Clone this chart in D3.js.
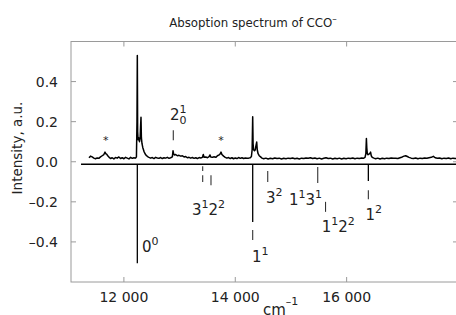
<!DOCTYPE html>
<html lang="en">
<head>
    <meta charset="UTF-8">
    <script src="https://cdn.jsdelivr.net/npm/d3@7"></script>
    <title>Absoption spectrum of CCO-</title>
    <style>
        body { margin: 0; background: #fff; }
        text { font-family: "DejaVu Sans", sans-serif; fill: #222; }
        .frame { stroke: #9a9a9a; stroke-width: 1; fill: none; }
    </style>
</head>
<body>
    <svg id="chart" width="456" height="315"></svg>
    <script>
        // ticks
        const xTicks = [12000, 14000, 16000];
        const yTicks = [-0.4, -0.2, 0, 0.2, 0.4];
        const xTickLabels = ["12 000", "14 000", "16 000"];
        const yTickLabels = ["\u20130.4", "\u20130.2", "0.0", "0.2", "0.4"];

        // measured spectrum [wavenumber cm-1, intensity]
        const spectrum = [
            [11373,0.020],[11400,0.028],[11430,0.024],[11460,0.018],[11490,0.015],[11520,0.019],[11550,0.017],
            [11580,0.024],[11610,0.030],[11640,0.036],[11661,0.048],[11675,0.040],[11690,0.038],[11710,0.030],
            [11735,0.022],[11760,0.016],[11790,0.020],[11820,0.014],[11850,0.021],[11880,0.018],[11910,0.024],
            [11940,0.016],[11970,0.020],[12000,0.015],[12030,0.022],[12060,0.018],[12090,0.014],[12120,0.022],
            [12150,0.017],[12180,0.020],[12210,0.018],[12225,0.024],[12235,0.200],[12241,0.530],[12247,0.150],
            [12255,0.110],[12265,0.120],[12280,0.100],[12292,0.120],[12300,0.180],[12307,0.222],[12314,0.120],
            [12325,0.090],[12340,0.070],[12360,0.052],[12380,0.040],[12400,0.032],[12425,0.026],[12450,0.022],
            [12480,0.018],[12510,0.021],[12540,0.016],[12570,0.022],[12600,0.019],[12630,0.017],[12660,0.021],
            [12690,0.016],[12720,0.020],[12750,0.018],[12780,0.022],[12810,0.017],[12840,0.020],[12870,0.024],
            [12882,0.055],[12892,0.040],[12905,0.034],[12930,0.036],[12960,0.030],[12990,0.032],[13020,0.028],
            [13050,0.030],[13080,0.024],[13110,0.026],[13140,0.020],[13170,0.022],[13200,0.018],[13230,0.021],
            [13260,0.017],[13290,0.020],[13320,0.016],[13350,0.021],[13380,0.019],[13410,0.022],[13426,0.036],
            [13440,0.022],[13470,0.024],[13500,0.020],[13530,0.026],[13546,0.034],[13560,0.024],[13590,0.022],
            [13620,0.025],[13650,0.022],[13680,0.030],[13710,0.034],[13730,0.040],[13744,0.048],[13760,0.036],
            [13790,0.028],[13820,0.022],[13850,0.018],[13880,0.021],[13910,0.016],[13940,0.020],[13970,0.015],
            [14000,0.019],[14030,0.016],[14060,0.021],[14090,0.017],[14120,0.020],[14150,0.016],[14180,0.019],
            [14210,0.017],[14240,0.018],[14270,0.020],[14290,0.026],[14303,0.060],[14313,0.225],[14320,0.090],
            [14330,0.060],[14345,0.055],[14360,0.060],[14372,0.080],[14385,0.098],[14395,0.060],[14410,0.040],
            [14430,0.030],[14455,0.024],[14480,0.018],[14510,0.015],[14550,0.018],[14590,0.014],[14630,0.017],
            [14670,0.015],[14710,0.019],[14750,0.016],[14790,0.018],[14830,0.014],[14870,0.017],[14910,0.015],
            [14950,0.018],[14990,0.016],[15030,0.019],[15070,0.015],[15110,0.017],[15150,0.014],[15190,0.018],
            [15230,0.016],[15270,0.019],[15310,0.017],[15350,0.020],[15390,0.016],[15430,0.019],[15470,0.015],
            [15510,0.018],[15550,0.014],[15590,0.017],[15630,0.020],[15670,0.016],[15710,0.018],[15750,0.014],
            [15790,0.017],[15830,0.015],[15870,0.018],[15910,0.014],[15950,0.017],[15990,0.015],[16030,0.018],
            [16070,0.016],[16110,0.019],[16150,0.015],[16190,0.018],[16230,0.016],[16270,0.019],[16300,0.017],
            [16330,0.022],[16345,0.040],[16355,0.116],[16362,0.070],[16372,0.040],[16385,0.035],[16400,0.038],
            [16418,0.042],[16430,0.048],[16442,0.030],[16460,0.022],[16490,0.018],[16520,0.015],[16560,0.018],
            [16600,0.014],[16640,0.017],[16680,0.015],[16720,0.018],[16760,0.016],[16800,0.019],[16840,0.017],
            [16880,0.018],[16920,0.016],[16960,0.020],[17000,0.024],[17030,0.028],[17060,0.030],[17090,0.026],
            [17120,0.022],[17160,0.018],[17200,0.016],[17240,0.019],[17280,0.015],[17320,0.018],[17360,0.016],
            [17400,0.019],[17440,0.017],[17480,0.020],[17520,0.022],[17557,0.027],[17590,0.020],[17630,0.017],
            [17670,0.019],[17710,0.015],[17750,0.018],[17790,0.016],[17830,0.019],[17870,0.015],[17910,0.018],
            [17950,0.016],[17990,0.018],[18000,0.017]
        ];

        // reference line under the spectrum
        const baseLevel = -0.012;
        const baseRange = [11230, 18000];

        // calculated transitions: [wavenumber, from, to]
        const solidSticks = [[12241, -0.012, -0.507], [14313, -0.012, -0.300], [16390, -0.012, -0.096]];
        const dashSticks = [
            [13415, -0.022, -0.046], [13415, -0.067, -0.101], [13564, -0.067, -0.117],
            [14583, -0.046, -0.101], [15481, -0.026, -0.106], [15621, -0.200, -0.250],
            [14313, -0.341, -0.391], [16390, -0.142, -0.187], [12887, 0.107, 0.157]
        ];

        // assignment labels: wavenumber/intensity of the text start, parts [base, sup, sub]
        const labels = [
            { wn: 12325, y: -0.449, parts: [["0", "0"]] },
            { wn: 14301, y: -0.499, parts: [["1", "1"]] },
            { wn: 16339, y: -0.291, parts: [["1", "2"]] },
            { wn: 13223, y: -0.266, parts: [["3", "1"], ["2", "2"]] },
            { wn: 14552, y: -0.205, parts: [["3", "2"]] },
            { wn: 14965, y: -0.217, parts: [["1", "1"], ["3", "1"]] },
            { wn: 15553, y: -0.350, parts: [["1", "1"], ["2", "2"]] },
            { wn: 12828, y: 0.207, parts: [["2", "1", "0"]] }
        ];

        // hot-band markers
        const stars = [[11673, 0.087], [13744, 0.087]];

        const svg = d3.select("#chart");
        const x = d3.scaleLinear().domain([11050, 18000]).range([71, 458]);
        const y = d3.scaleLinear().domain([-0.6, 0.6]).range([282, 41.5]);

        // frame
        svg.append("rect").attr("class", "frame")
            .attr("x", x.range()[0]).attr("y", y.range()[1])
            .attr("width", x.range()[1] - x.range()[0]).attr("height", y.range()[0] - y.range()[1]);

        const inner = 5;
        const frameTicks = svg.append("g").attr("stroke", "#9a9a9a").attr("stroke-width", 1);
        xTicks.forEach(t => {
            frameTicks.append("line").attr("x1", x(t)).attr("x2", x(t)).attr("y1", y.range()[0]).attr("y2", y.range()[0] - inner);
            frameTicks.append("line").attr("x1", x(t)).attr("x2", x(t)).attr("y1", y.range()[1]).attr("y2", y.range()[1] + inner);
        });
        yTicks.forEach(t => {
            frameTicks.append("line").attr("x1", x.range()[0]).attr("x2", x.range()[0] + inner).attr("y1", y(t)).attr("y2", y(t));
            frameTicks.append("line").attr("x1", x.range()[1]).attr("x2", x.range()[1] - inner).attr("y1", y(t)).attr("y2", y(t));
        });

        svg.selectAll(".xlab").data(xTicks).enter().append("text")
            .attr("x", d => x(d)).attr("y", 301.5).attr("text-anchor", "middle")
            .style("font-size", "14px").text((d, i) => xTickLabels[i]);
        svg.selectAll(".ylab").data(yTicks).enter().append("text")
            .attr("x", 58).attr("y", d => y(d)).attr("dy", "0.36em").attr("text-anchor", "end")
            .style("font-size", "14px").text((d, i) => yTickLabels[i]);

        // title and axis names
        const title = svg.append("text").attr("x", 253).attr("y", 26.5).attr("text-anchor", "middle").style("font-size", "11.8px");
        title.append("tspan").text("Absoption spectrum of CCO");
        title.append("tspan").attr("dy", -5).style("font-size", "9px").text("\u2013");

        svg.append("text").attr("transform", "translate(21.5,148) rotate(-90)").attr("text-anchor", "middle")
            .style("font-size", "13.5px").text("Intensity, a.u.");

        const xName = svg.append("text").attr("x", 263).attr("y", 314.5).style("font-size", "15px");
        xName.append("tspan").text("cm");
        xName.append("tspan").attr("dy", -10).style("font-size", "11px").text("\u20131");

        // zero reference line
        svg.append("line")
            .attr("x1", x(baseRange[0])).attr("x2", x(baseRange[1]))
            .attr("y1", y(baseLevel)).attr("y2", y(baseLevel))
            .attr("stroke", "#000").attr("stroke-width", 1.5);

        // sticks
        svg.selectAll(".solid").data(solidSticks).enter().append("line")
            .attr("x1", d => x(d[0])).attr("x2", d => x(d[0]))
            .attr("y1", d => y(d[1])).attr("y2", d => y(d[2]))
            .attr("stroke", "#000").attr("stroke-width", 1.3);
        svg.selectAll(".dash").data(dashSticks).enter().append("line")
            .attr("x1", d => x(d[0])).attr("x2", d => x(d[0]))
            .attr("y1", d => y(d[1])).attr("y2", d => y(d[2]))
            .attr("stroke", "#333").attr("stroke-width", 1.1);

        // spectrum trace
        const line = d3.line().x(d => x(d[0])).y(d => y(d[1]));
        svg.append("path").datum(spectrum)
            .attr("fill", "none").attr("stroke", "#000").attr("stroke-width", 1.5)
            .attr("stroke-linejoin", "round").attr("d", line);

        // stars
        svg.selectAll(".star").data(stars).enter().append("text")
            .attr("x", d => x(d[0])).attr("y", d => y(d[1])).attr("text-anchor", "middle")
            .style("font-size", "11px").text("*");

        // assignment labels
        labels.forEach(lab => {
            let cx = x(lab.wn);
            const by = y(lab.y);
            lab.parts.forEach(p => {
                const b = svg.append("text").attr("x", cx).attr("y", by).style("font-size", "15px").text(p[0]);
                cx += b.node().getComputedTextLength();
                const s = svg.append("text").attr("x", cx).attr("y", by - 7).style("font-size", "11px").text(p[1]);
                let w = s.node().getComputedTextLength();
                if (p[2]) {
                    const sb = svg.append("text").attr("x", cx).attr("y", by + 4).style("font-size", "11px").text(p[2]);
                    w = Math.max(w, sb.node().getComputedTextLength());
                }
                cx += w;
            });
        });
    </script>
</body>
</html>
